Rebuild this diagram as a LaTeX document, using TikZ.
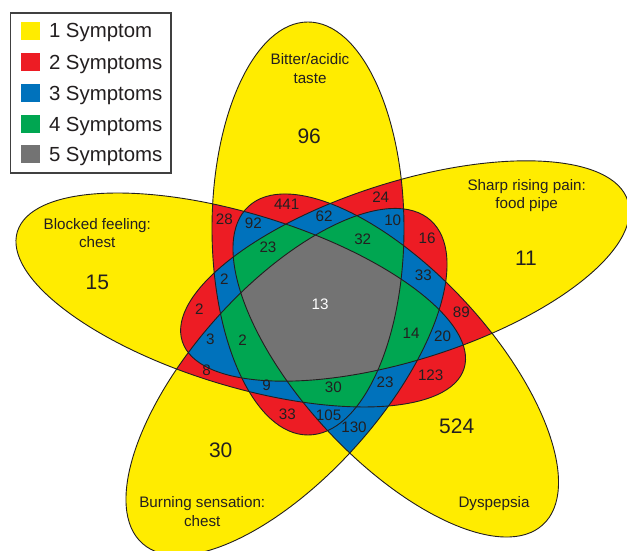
\documentclass[tikz,border=0pt]{standalone}
\usepackage{fontspec}
\setmainfont{Liberation Sans}
\definecolor{vYel}{RGB}{255,236,0}
\definecolor{vRed}{RGB}{237,28,36}
\definecolor{vBlue}{RGB}{0,114,188}
\definecolor{vGreen}{RGB}{0,166,81}
\definecolor{vGray}{RGB}{115,115,115}
\definecolor{vTxt}{RGB}{35,31,32}
\definecolor{vFrame}{RGB}{64,64,64}
% ellipses: T=Bitter (top), B=Blocked (left), U=Burning (bottom left), D=Dyspepsia (bottom right), S=Sharp (right)
\newcommand{\ellT}{(308,322.5) circle[x radius=96pt, y radius=206.5pt]}
\newcommand{\ellB}{(240.75,251) circle[x radius=233.6pt, y radius=86.1pt, rotate=-17]}
\newcommand{\ellU}{(286.5,169.1) circle[x radius=216.5pt, y radius=94.7pt, rotate=48.27]}
\newcommand{\ellD}{(395.75,185.5) circle[x radius=216.8pt, y radius=94.3pt, rotate=-47.2]}
\newcommand{\ellS}{(405,280) circle[x radius=233.6pt, y radius=89pt, rotate=17.5]}
\begin{document}
\begin{tikzpicture}[x=1pt,y=1pt,
  ellline/.style={draw=vTxt, line width=0.9pt},
  num/.style={text=vTxt, font=\fontsize{15.2}{18}\selectfont, inner sep=0pt},
  bignum/.style={text=vTxt, font=\fontsize{21}{24}\selectfont, inner sep=0pt},
  lab/.style={text=vTxt, font=\fontsize{15.2}{18}\selectfont, inner sep=0pt, anchor=base},
  legtxt/.style={text=vTxt, font=\fontsize{20.4}{24}\selectfont, inner sep=0pt, anchor=base west},
  swatch/.style={minimum width=18.8pt, minimum height=18pt, inner sep=0pt, draw=none}
]
\useasboundingbox (0,0) rectangle (627,551);
\fill[white] (0,0) rectangle (627,551);
\begin{scope}
\clip (0,0) rectangle (627,551);
% one symptom
\fill[vYel] \ellT; \fill[vYel] \ellB; \fill[vYel] \ellU; \fill[vYel] \ellD; \fill[vYel] \ellS;
% two symptoms
\begin{scope}\clip \ellT; \fill[vRed] \ellB;\end{scope}
\begin{scope}\clip \ellT; \fill[vRed] \ellU;\end{scope}
\begin{scope}\clip \ellT; \fill[vRed] \ellD;\end{scope}
\begin{scope}\clip \ellT; \fill[vRed] \ellS;\end{scope}
\begin{scope}\clip \ellB; \fill[vRed] \ellU;\end{scope}
\begin{scope}\clip \ellB; \fill[vRed] \ellD;\end{scope}
\begin{scope}\clip \ellB; \fill[vRed] \ellS;\end{scope}
\begin{scope}\clip \ellU; \fill[vBlue] \ellD;\end{scope}
\begin{scope}\clip \ellU; \fill[vRed] \ellS;\end{scope}
\begin{scope}\clip \ellD; \fill[vRed] \ellS;\end{scope}
% three symptoms
\begin{scope}\clip \ellT; \clip \ellB; \fill[vBlue] \ellU;\end{scope}
\begin{scope}\clip \ellT; \clip \ellB; \fill[vBlue] \ellD;\end{scope}
\begin{scope}\clip \ellT; \clip \ellB; \fill[vBlue] \ellS;\end{scope}
\begin{scope}\clip \ellT; \clip \ellU; \fill[vBlue] \ellD;\end{scope}
\begin{scope}\clip \ellT; \clip \ellU; \fill[vBlue] \ellS;\end{scope}
\begin{scope}\clip \ellT; \clip \ellD; \fill[vBlue] \ellS;\end{scope}
\begin{scope}\clip \ellB; \clip \ellU; \fill[vBlue] \ellD;\end{scope}
\begin{scope}\clip \ellB; \clip \ellU; \fill[vBlue] \ellS;\end{scope}
\begin{scope}\clip \ellB; \clip \ellD; \fill[vBlue] \ellS;\end{scope}
\begin{scope}\clip \ellU; \clip \ellD; \fill[vBlue] \ellS;\end{scope}
% four symptoms
\begin{scope}\clip \ellT; \clip \ellB; \clip \ellU; \fill[vGreen] \ellD;\end{scope}
\begin{scope}\clip \ellT; \clip \ellB; \clip \ellU; \fill[vGreen] \ellS;\end{scope}
\begin{scope}\clip \ellT; \clip \ellB; \clip \ellD; \fill[vGreen] \ellS;\end{scope}
\begin{scope}\clip \ellT; \clip \ellU; \clip \ellD; \fill[vGreen] \ellS;\end{scope}
\begin{scope}\clip \ellB; \clip \ellU; \clip \ellD; \fill[vGreen] \ellS;\end{scope}
% five symptoms
\begin{scope}\clip \ellT; \clip \ellB; \clip \ellU; \clip \ellD; \fill[vGray] \ellS;\end{scope}
% outlines
\draw[ellline] \ellT; \draw[ellline] \ellB; \draw[ellline] \ellU; \draw[ellline] \ellD; \draw[ellline] \ellS;
\end{scope}
% set labels
\node[lab] (bitterA) at (310,486) {Bitter/acidic};
\node[lab] (bitterB) at (310,467.7) {taste};
\node[lab] (sharpA) at (526.7,360.5) {Sharp rising pain:};
\node[lab] (sharpB) at (526.7,342.2) {food pipe};
\node[lab] (blockA) at (97.3,321.5) {Blocked feeling:};
\node[lab] (blockB) at (97.3,303.2) {chest};
\node[lab] (burnA) at (202.3,43) {Burning sensation:};
\node[lab] (burnB) at (202.3,24.7) {chest};
\node[lab] (dysp) at (494,43.7) {Dyspepsia};
% single-set counts
\node[bignum] (nT) at (309.2,414.7) {96};
\node[bignum] (nS) at (526,292.7) {11};
\node[bignum] (nB) at (97.3,268.3) {15};
\node[bignum] (nU) at (220.7,100.3) {30};
\node[bignum] (nD) at (456.7,125) {524};
% intersection counts
\node[num] (r28) at (224.3,331.7) {28};
\node[num] (r441) at (286.7,346.7) {441};
\node[num] (r24) at (380.7,353.7) {24};
\node[num] (r92) at (253.3,327.5) {92};
\node[num] (r62) at (324,335) {62};
\node[num] (r10) at (392.7,331) {10};
\node[num] (r16) at (427,312.3) {16};
\node[num] (r23a) at (268,303.3) {23};
\node[num] (r32) at (362.7,312) {32};
\node[num] (r2a) at (224.3,272.3) {2};
\node[num] (r33a) at (423.3,276) {33};
\node[num, text=white] (r13) at (320,246.7) {13};
\node[num] (r2b) at (199.3,241.5) {2};
\node[num] (r89) at (461.3,238.3) {89};
\node[num] (r3) at (210.3,211.3) {3};
\node[num] (r2c) at (242.7,210.5) {2};
\node[num] (r14) at (411,217.3) {14};
\node[num] (r20) at (442.5,215.2) {20};
\node[num] (r8) at (206.7,180.5) {8};
\node[num] (r9) at (266.7,165.3) {9};
\node[num] (r30) at (333.3,164) {30};
\node[num] (r23b) at (385,168.5) {23};
\node[num] (r123) at (430.7,176) {123};
\node[num] (r33b) at (287.3,137) {33};
\node[num] (r105) at (328.6,135.3) {105};
\node[num] (r130) at (354,123.7) {130};
% legend
\node[draw=vFrame, line width=1.2pt, fill=white, minimum width=160.2pt, minimum height=160pt, inner sep=0pt] (legend) at (90.9,458) {};
\node[swatch, fill=vYel] (sw1) at (30.6,520.3) {};
\node[swatch, fill=vRed] (sw2) at (30.6,489.2) {};
\node[swatch, fill=vBlue] (sw3) at (30.6,458.2) {};
\node[swatch, fill=vGreen] (sw4) at (30.6,427.1) {};
\node[swatch, fill=vGray] (sw5) at (30.6,396.7) {};
\node[legtxt] (lt1) at (48.8,513) {1 Symptom};
\node[legtxt] (lt2) at (48.8,481.9) {2 Symptoms};
\node[legtxt] (lt3) at (48.8,450.9) {3 Symptoms};
\node[legtxt] (lt4) at (48.8,419.8) {4 Symptoms};
\node[legtxt] (lt5) at (48.8,389.4) {5 Symptoms};
\end{tikzpicture}
\end{document}
